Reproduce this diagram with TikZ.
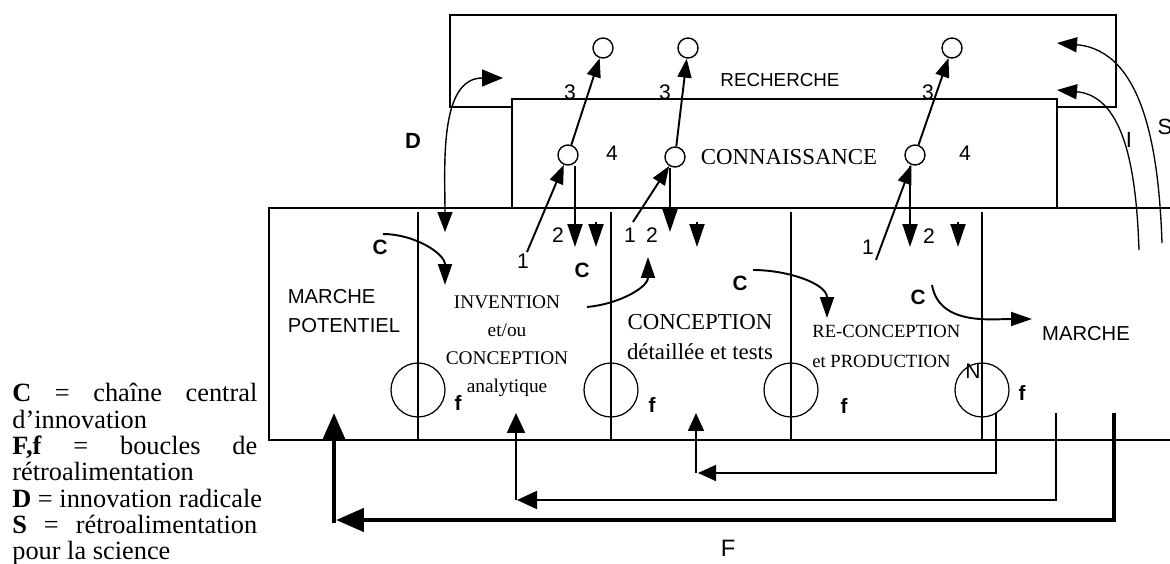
\documentclass[tikz,border=0pt]{standalone}
\usepackage{fontspec}
\setmainfont{Liberation Serif}
\setsansfont{Liberation Sans}
\usepackage{tikz}
\usetikzlibrary{arrows.meta,positioning,calc}
\definecolor{ink}{RGB}{0,0,0}
\tikzset{
  frame/.style={draw=ink,line width=1.3pt},
  bigframe/.style={draw=ink,line width=1.5pt},
  divline/.style={draw=ink,line width=0.6pt},
  loopc/.style={draw=ink,circle,line width=0.7pt,minimum size=1.08cm,inner sep=0pt},
  knot/.style={draw=ink,circle,fill=white,line width=0.8pt,minimum size=0.4cm,inner sep=0pt},
  arr/.style={-{Triangle[length=3.8mm,width=2.8mm]},line width=1.1pt},
  downarr/.style={-{Triangle[length=4.6mm,width=3mm]},line width=1.1pt},
  carr/.style={-{Triangle[length=4.2mm,width=2.8mm]},line width=1.1pt},
  darr/.style={{Triangle[length=4mm,width=3mm]}-{Triangle[length=4.2mm,width=3.4mm]},line width=0.8pt},
  sarr/.style={-{Triangle[length=4mm,width=3mm]},line width=0.75pt},
  fthick/.style={-{Triangle[length=5.6mm,width=4.6mm]},line width=2.6pt},
  fmed/.style={-{Triangle[length=4mm,width=3.6mm]},line width=1.2pt},
  fthin/.style={-{Triangle[length=3.6mm,width=3.2mm]},line width=0.9pt},
  num/.style={font=\sffamily\fontsize{12}{13}\selectfont,inner sep=0pt},
  tag/.style={font=\sffamily\bfseries\fontsize{11.8}{13}\selectfont,inner sep=0pt},
  sans/.style={font=\sffamily\fontsize{11.5}{16}\selectfont,align=left,inner sep=0pt},
  serif/.style={font=\fontsize{11}{16}\selectfont,align=center,inner sep=0pt},
}
\newcommand{\jline}[1]{\makebox[4.9cm][s]{#1}}

\begin{document}
\begin{tikzpicture}[x=0.02cm,y=-0.02cm]
  \useasboundingbox (0,0) rectangle (1170,564);
  % boxes
  \draw[frame] (450,15) rectangle (1116,107);
  \draw[frame,fill=white] (512,99) rectangle (1057,208);
  \draw[bigframe] (1180,208) -| (269,440) -- (1180,440);
  \foreach \x/\n in {418/a,611/b,791/c,982/d}{
    \draw[divline] (\x,212) -- (\x,440);
    \node[loopc] (loop\n) at (\x,390) {};
  }
  \node[tag] (fa) at (458,403) {f};
  \node[tag] (fb) at (652,405) {f};
  \node[tag] (fc) at (844,406) {f};
  \node[tag] (fd) at (1022,393) {f};
  \node[num] (nN) at (973,371) {N};

  % texts
  \node[sans,font=\sffamily\fontsize{10.7}{12}\selectfont] (rech) at (780,80) {RECHERCHE};
  \node[serif,font=\fontsize{13}{15}\selectfont] (conn) at (789,157) {CONNAISSANCE};
  \node[sans] (mpot) at (344,311) {MARCHE\\POTENTIEL};
  \node[serif] (inv) at (507,346) {INVENTION\\et/ou\\CONCEPTION\\analytique};
  \node[serif,font=\fontsize{13}{17}\selectfont] (conc) at (700,337) {CONCEPTION\\détaillée et tests};
  \node[serif,align=left,anchor=west,font=\fontsize{10.6}{17}\selectfont] (recon) at (812,346) {RE-CONCEPTION\\et PRODUCTION};
  \node[sans] (march) at (1086,334) {MARCHE};

  % knowledge and research points
  \node[knot] (kA) at (568,155) {};
  \node[knot] (kB) at (675,157) {};
  \node[knot] (kC) at (915,155) {};
  \node[knot] (rA) at (603,48) {};
  \node[knot] (rB) at (688,48) {};
  \node[knot] (rC) at (952,48) {};

  \coordinate (oA) at (527,252);
  \coordinate (oB) at (633,222);
  \coordinate (oC) at (876,260);
  \coordinate (dA) at (575,247);
  \coordinate (dB) at (670,232);
  \coordinate (dC) at (910,247);
  \draw[arr] (oA) -- (kA);
  \draw[arr] (oB) -- (kB);
  \draw[arr] (oC) -- (kC);
  \draw[arr] (kA) -- (rA);
  \draw[arr] (kB) -- (rB);
  \draw[arr] (kC) -- (rC);
  \draw[downarr] (kA.south -| dA) -- (dA);
  \draw[downarr] (kB.south -| dB) -- (dB);
  \draw[downarr] (kC.south -| dC) -- (dC);
  \foreach \x/\n in {596/a,697/b,958/c}{
    \coordinate (s\n) at (\x,222);
    \coordinate (t\n) at (\x,247);
    \draw[downarr] (s\n) -- (t\n);
  }
  \node[num] (one1) at (523,261) {1};
  \node[num] (two1) at (558,235) {2};
  \node[num] (one2) at (630,235) {1};
  \node[num] (two2) at (652,235) {2};
  \node[num] (one3) at (868,247) {1};
  \node[num] (two3) at (929,236) {2};
  \node[num] (thr1) at (570,92) {3};
  \node[num] (thr2) at (665,92) {3};
  \node[num] (thr3) at (928,92) {3};
  \node[num] (four1) at (612,153) {4};
  \node[num] (four3) at (965,153) {4};

  % central chain C
  \coordinate (cA0) at (383,234); \coordinate (cA1) at (445,285);
  \coordinate (cB0) at (587,307); \coordinate (cB1) at (648,257);
  \coordinate (cC0) at (753,270); \coordinate (cC1) at (827,318);
  \coordinate (cD0) at (932,285); \coordinate (cD1) at (1032,319);
  \draw[carr] (cA0) to[out=0,in=90] (cA1);
  \draw[carr] (cB0) to[out=5,in=-90] (cB1);
  \draw[carr] (cC0) to[out=0,in=90] (cC1);
  \draw[carr] (cD0) to[out=-80,in=180] (cD1);
  \node[tag] (cA) at (380,247) {C};
  \node[tag] (cB) at (582,270) {C};
  \node[tag] (cC) at (740,283) {C};
  \node[tag] (cD) at (918,297) {C};

  % D, I, S
  \coordinate (dLow) at (445,232); \coordinate (dHigh) at (503,78);
  \draw[darr] (dLow) to[out=90,in=180] (dHigh);
  \node[tag,font=\sffamily\bfseries\fontsize{12.5}{13}\selectfont] (dlab) at (413,141) {D};
  \coordinate (iLow) at (1139,250); \coordinate (iHigh) at (1057,90);
  \coordinate (sLow) at (1162,243); \coordinate (sHigh) at (1057,43);
  \draw[sarr] (iLow) to[out=92,in=-5] (iHigh);
  \draw[sarr] (sLow) to[out=92,in=-5] (sHigh);
  \node[num,font=\sffamily\fontsize{12.5}{13}\selectfont] (ilab) at (1129,140) {I};
  \node[num,font=\sffamily\fontsize{12.5}{13}\selectfont] (slab) at (1165,127) {S};

  % feedback loops F
  \coordinate (Fa) at (1114,413); \coordinate (Fb) at (336,520);
  \coordinate (Fc) at (334,523); \coordinate (Fd) at (334,413);
  \coordinate (Ma) at (1056,413); \coordinate (Mb) at (517,500);
  \coordinate (Mc) at (516,500); \coordinate (Md) at (516,413);
  \coordinate (Ta) at (996,413); \coordinate (Tb) at (698,473);
  \coordinate (Tc) at (696,473); \coordinate (Td) at (696,413);
  \draw[fthick] (Fa) |- (Fb);
  \draw[fthick] (Fc) -- (Fd);
  \draw[fmed] (Ma) |- (Mb);
  \draw[fmed] (Mc) -- (Md);
  \draw[fthin] (Ta) |- (Tb);
  \draw[fthin] (Tc) -- (Td);
  \node[num,font=\sffamily\fontsize{13.5}{14}\selectfont] (Flab) at (728,548) {F};

  % legend
  \node[anchor=north west,align=left,inner sep=0pt,
    font=\fontsize{15}{15}\selectfont] (legend) at (12,383)
    {\jline{\textbf{C} = chaîne central}\\
     d’innovation\\
     \jline{\textbf{F,f} = boucles de}\\
     rétroalimentation\\
     \textbf{D} = innovation radicale\\
     \jline{\textbf{S} = rétroalimentation}\\
     pour la science};
\end{tikzpicture}
\end{document}
